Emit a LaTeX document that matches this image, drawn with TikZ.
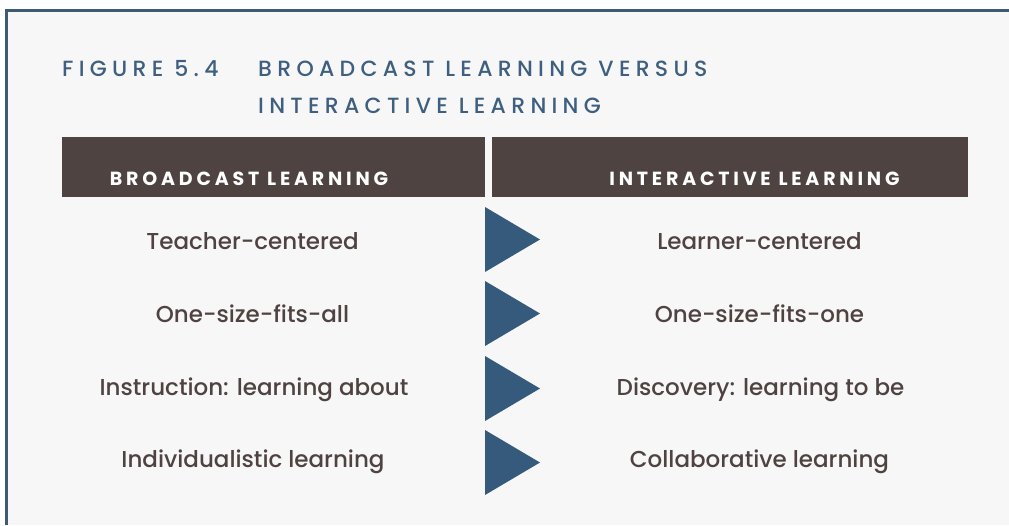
\documentclass[tikz,border=0pt]{standalone}
\usepackage{fontspec}
\setmainfont{Poppins}
\newfontfamily\medfont{Poppins Medium}
\newfontfamily\titlefont{Poppins Medium}[LetterSpace=24]
\newfontfamily\hdrfont{Poppins Bold}[LetterSpace=20]
\definecolor{framec}{HTML}{3F5A75}
\definecolor{bgc}{HTML}{F7F7F7}
\definecolor{brownc}{HTML}{4F4341}
\definecolor{titlec}{HTML}{3E5F80}
\definecolor{tric}{HTML}{355A7C}
\tikzset{
  hdrtext/.style={text=white, font=\hdrfont\fontsize{19}{20}\selectfont, inner sep=0pt, anchor=base},
  row/.style={text=brownc, font=\medfont\fontsize{23}{24}\selectfont, inner sep=0pt, anchor=base},
  tri/.style={fill=tric, draw=none},
  ttl/.style={text=titlec, font=\titlefont\fontsize{22}{28}\selectfont, inner sep=0pt, anchor=base west}
}
\begin{document}
\begin{tikzpicture}[x=1pt,y=-1pt]
\useasboundingbox (0,0) rectangle (1009,525);
\fill[white] (0,0) rectangle (1009,525);
\fill[bgc] (7,11) rectangle (1009,525);
\draw[framec, line width=3pt] (6.5,525) -- (6.5,10) -- (1009,10);
% title
\node[ttl] (fig) at (62,76) {FIGURE 5.4};
\node[ttl] (t1) at (258,76) {BROADCAST LEARNING VERSUS};
\node[ttl] (t2) at (258,113) {INTERACTIVE LEARNING};
% headers
\fill[brownc] (62,137) rectangle (485,197);
\fill[brownc] (492,137) rectangle (968,197);
\node[hdrtext] (hl) at (249,185) {BROADCAST LEARNING};
\node[hdrtext] (hr) at (754.5,185) {INTERACTIVE LEARNING};
% triangles
\foreach \i/\t in {1/207,2/281,3/356,4/430}{
  \fill[tri] (485,\t) coordinate (a\i) -- (540,\t+32.5) -- (485,\t+65) -- cycle;
}
% rows
\node[row] (l1) at (252.5,249) {Teacher-centered};
\node[row] (r1) at (759.5,249) {Learner-centered};
\node[row] (l2) at (252.5,322) {One-size-fits-all};
\node[row] (r2) at (759.5,322) {One-size-fits-one};
\node[row] (l3) at (254,395) {Instruction: learning about};
\node[row] (r3) at (760.5,395) {Discovery: learning to be};
\node[row] (l4) at (253,467) {Individualistic learning};
\node[row] (r4) at (759.5,467) {Collaborative learning};
\end{tikzpicture}
\end{document}
